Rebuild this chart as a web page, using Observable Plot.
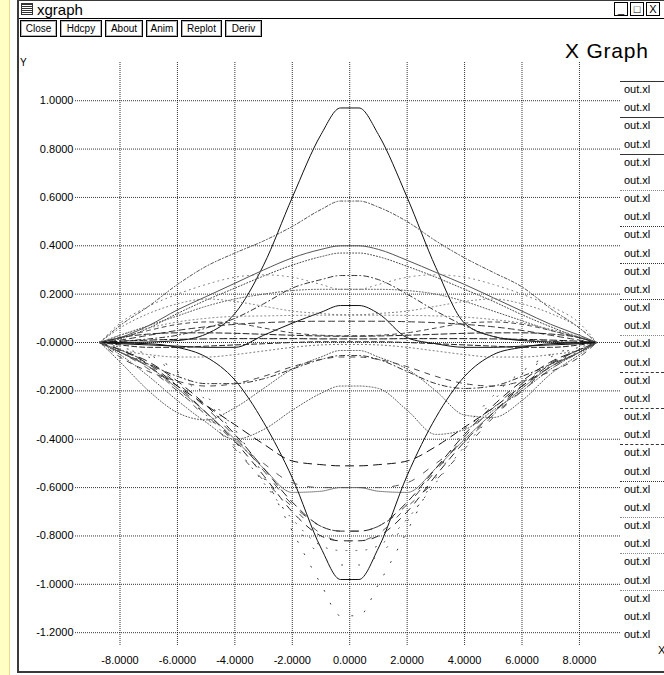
<!DOCTYPE html>
<html>
<head>
<meta charset="utf-8">
<script src="https://cdn.jsdelivr.net/npm/d3@7"></script>
<script src="https://cdn.jsdelivr.net/npm/@observablehq/plot@0.6"></script>
<style>
  html, body { margin: 0; padding: 0; background: #fff; }
  body { width: 664px; height: 675px; position: relative; overflow: hidden; font-family: "Liberation Sans", Arial, sans-serif; }
  .abs { position: absolute; }
  #strip { left: 0; top: 0; width: 9px; height: 675px; background: #ffffc4; border-right: 1px solid #e6d98c; }
  #winL { left: 17px; top: 0; width: 2px; height: 673px; background: #3a3a3a; }
  #winT { left: 17px; top: 0; width: 647px; height: 1px; background: #3a3a3a; }
  #winB { left: 17px; top: 671px; width: 647px; height: 2px; background: #3a3a3a; }
  #titlebar { left: 19px; top: 1px; width: 645px; height: 17px; border-bottom: 1px solid #000; background: #fff; }
  #icon { left: 21px; top: 3px; width: 12px; height: 12px; background: repeating-linear-gradient(#333 0 1px, #fff 1px 2px); border: 1px solid #333; box-sizing: border-box; }
  #wtitle { left: 37px; top: 1px; font-size: 15px; line-height: 17px; color: #000; }
  .wbox { top: 2px; width: 14px; height: 14px; border: 1px solid #000; box-sizing: border-box; font-size: 11px; line-height: 12px; text-align: center; }
  .btn { top: 20px; height: 17px; border: 1px solid #000; box-shadow: inset 0 0 0 1px #b0b0b0; box-sizing: border-box; font-size: 10px; line-height: 15px; text-align: center; color: #000; background: #fff; }
  #xgtitle { left: 565px; top: 39px; font-size: 21px; letter-spacing: 0.8px; color: #000; }
  #ylab { left: 20px; top: 57px; font-size: 10px; }
  #xlab { left: 658px; top: 644px; font-size: 11px; }
  .leg { left: 624px; font-size: 11px; line-height: 12px; color: #000; }
  .legline { left: 620px; width: 44px; height: 0; }
  #chart { left: 0; top: 0; }
</style>
</head>
<body>
<div id="strip" class="abs"></div>
<div id="winL" class="abs"></div>
<div id="winT" class="abs"></div>
<div id="winB" class="abs"></div>
<div id="titlebar" class="abs"></div>
<div id="icon" class="abs"></div>
<div id="wtitle" class="abs">xgraph</div>
<div class="abs wbox" style="left:614px">_</div>
<div class="abs wbox" style="left:630px">&#9633;</div>
<div class="abs wbox" style="left:646px">X</div>
<div id="buttons"></div>
<div id="xgtitle" class="abs">X Graph</div>
<div id="ylab" class="abs">Y</div>
<div id="xlab" class="abs">X</div>
<div id="legend"></div>
<div id="chart" class="abs"></div>
<script>
// ---- tick values and labels ----
const xTicks = [-8, -6, -4, -2, 0, 2, 4, 6, 8];
const xTickLabels = ["-8.0000", "-6.0000", "-4.0000", "-2.0000", "0.0000", "2.0000", "4.0000", "6.0000", "8.0000"];
const yTicks = [-1.2, -1.0, -0.8, -0.6, -0.4, -0.2, 0, 0.2, 0.4, 0.6, 0.8, 1.0];
const yTickLabels = ["-1.2000", "-1.0000", "-0.8000", "-0.6000", "-0.4000", "-0.2000", "-0.0000", "0.2000", "0.4000", "0.6000", "0.8000", "1.0000"];

// ---- sample positions shared by every data set ----
const xs = [-8.7, -8, -7, -6, -5, -4, -3, -2, -1, -0.32, 0.32, 1, 2, 3, 4, 5, 6, 7, 8, 8.6];

// ---- the 31 data sets (all named "out.xl" in the legend) ----
const s01 = [0, 0, 0.002, 0.008, 0.035, 0.12, 0.32, 0.60, 0.86, 0.97, 0.97, 0.86, 0.60, 0.31, 0.08, 0.025, 0.008, 0.002, 0, 0];
const s02 = [0, 0.07, 0.15, 0.24, 0.315, 0.37, 0.42, 0.48, 0.55, 0.585, 0.585, 0.56, 0.50, 0.42, 0.35, 0.29, 0.23, 0.14, 0.06, 0];
const s03 = [0, 0.02, 0.07, 0.135, 0.19, 0.245, 0.30, 0.35, 0.385, 0.40, 0.40, 0.385, 0.34, 0.29, 0.24, 0.185, 0.13, 0.075, 0.03, 0];
const s04 = [0, 0.015, 0.06, 0.12, 0.175, 0.225, 0.275, 0.32, 0.355, 0.37, 0.37, 0.355, 0.315, 0.27, 0.22, 0.17, 0.115, 0.065, 0.02, 0];
const s05 = [0, 0.005, 0.015, 0.03, 0.06, 0.10, 0.16, 0.225, 0.26, 0.277, 0.277, 0.26, 0.20, 0.13, 0.07, 0.025, 0.01, 0.005, 0, 0];
const s06 = [0, 0.03, 0.07, 0.11, 0.15, 0.18, 0.20, 0.215, 0.22, 0.22, 0.22, 0.22, 0.215, 0.20, 0.17, 0.13, 0.09, 0.05, 0.02, 0];
const s07 = [0, -0.005, -0.01, -0.015, -0.02, -0.02, 0.03, 0.08, 0.125, 0.153, 0.153, 0.12, 0.02, -0.005, -0.02, -0.02, -0.015, -0.01, -0.005, 0];
const s08 = [0, 0.01, 0.03, 0.05, 0.065, 0.075, 0.082, 0.086, 0.088, 0.088, 0.088, 0.088, 0.086, 0.082, 0.075, 0.065, 0.05, 0.03, 0.01, 0];
const s09 = [0, 0.03, 0.06, 0.085, 0.10, 0.108, 0.11, 0.112, 0.113, 0.113, 0.113, 0.113, 0.112, 0.11, 0.105, 0.095, 0.08, 0.055, 0.025, 0];
const s10 = [0, 0.02, 0.035, 0.04, 0.04, 0.038, 0.034, 0.03, 0.027, 0.026, 0.026, 0.027, 0.03, 0.034, 0.038, 0.04, 0.04, 0.035, 0.02, 0];
const s11 = [0, 0.005, 0.01, 0.013, 0.015, 0.016, 0.016, 0.016, 0.015, 0.015, 0.015, 0.015, 0.016, 0.016, 0.016, 0.015, 0.013, 0.01, 0.005, 0];
const s12 = [0, -0.01, -0.02, -0.02, -0.015, -0.01, -0.005, 0, 0.003, 0.003, 0.003, 0.003, 0, -0.005, -0.01, -0.015, -0.02, -0.02, -0.01, 0];
const s13 = [0, -0.08, -0.20, -0.29, -0.32, -0.27, -0.19, -0.11, -0.06, -0.033, -0.033, -0.06, -0.11, -0.20, -0.30, -0.31, -0.24, -0.13, -0.05, 0];
const s14 = [0, -0.04, -0.09, -0.14, -0.17, -0.17, -0.15, -0.11, -0.07, -0.054, -0.054, -0.07, -0.12, -0.17, -0.19, -0.18, -0.14, -0.09, -0.04, 0];
const s15 = [0, -0.05, -0.14, -0.24, -0.33, -0.40, -0.36, -0.28, -0.21, -0.18, -0.18, -0.19, -0.28, -0.38, -0.36, -0.28, -0.20, -0.11, -0.04, 0];
const s16 = [0, -0.04, -0.10, -0.18, -0.26, -0.34, -0.42, -0.49, -0.505, -0.51, -0.51, -0.505, -0.49, -0.43, -0.35, -0.27, -0.18, -0.10, -0.04, 0];
const s17 = [0, -0.04, -0.10, -0.19, -0.29, -0.40, -0.52, -0.62, -0.615, -0.60, -0.60, -0.615, -0.62, -0.52, -0.40, -0.29, -0.19, -0.10, -0.04, 0];
const s18 = [0, -0.03, -0.08, -0.16, -0.26, -0.38, -0.52, -0.66, -0.76, -0.78, -0.78, -0.76, -0.66, -0.52, -0.38, -0.26, -0.16, -0.08, -0.03, 0];
const s19 = [0, -0.03, -0.09, -0.18, -0.29, -0.41, -0.55, -0.70, -0.80, -0.82, -0.82, -0.80, -0.70, -0.55, -0.41, -0.29, -0.18, -0.09, -0.03, 0];
const s20 = [0, -0.002, -0.005, -0.02, -0.06, -0.155, -0.33, -0.56, -0.85, -0.98, -0.98, -0.85, -0.55, -0.31, -0.14, -0.05, -0.02, -0.005, -0.002, 0];
const s21 = [0, -0.02, -0.05, -0.12, -0.22, -0.36, -0.55, -0.78, -1.0, -1.13, -1.13, -1.0, -0.78, -0.55, -0.36, -0.22, -0.12, -0.05, -0.02, 0];
const s22 = [0, -0.03, -0.085, -0.17, -0.27, -0.39, -0.53, -0.67, -0.76, -0.78, -0.78, -0.76, -0.67, -0.53, -0.39, -0.27, -0.17, -0.085, -0.03, 0];
const s23 = [0, -0.035, -0.095, -0.19, -0.30, -0.43, -0.58, -0.73, -0.84, -0.86, -0.86, -0.84, -0.73, -0.58, -0.43, -0.30, -0.19, -0.095, -0.035, 0];
const s24 = [0, 0.06, 0.12, 0.16, 0.18, 0.17, 0.15, 0.13, 0.12, 0.115, 0.115, 0.12, 0.13, 0.15, 0.17, 0.18, 0.16, 0.12, 0.06, 0];
const s25 = [0, 0.02, 0.05, 0.075, 0.085, 0.08, 0.06, 0.04, 0.03, 0.028, 0.028, 0.03, 0.04, 0.06, 0.08, 0.085, 0.075, 0.05, 0.02, 0];
const s26 = [0, -0.04, -0.10, -0.20, -0.31, -0.44, -0.57, -0.68, -0.79, -0.82, -0.82, -0.79, -0.68, -0.57, -0.44, -0.31, -0.20, -0.10, -0.04, 0];
const s27 = [0, -0.04, -0.11, -0.20, -0.30, -0.41, -0.50, -0.58, -0.60, -0.60, -0.60, -0.60, -0.58, -0.50, -0.41, -0.30, -0.20, -0.11, -0.04, 0];
const s28 = [0, -0.03, -0.05, -0.06, -0.06, -0.05, -0.035, -0.02, -0.01, -0.008, -0.008, -0.01, -0.02, -0.035, -0.05, -0.06, -0.06, -0.05, -0.03, 0];
const s29 = [0, 0.08, 0.15, 0.20, 0.24, 0.27, 0.28, 0.27, 0.24, 0.22, 0.22, 0.24, 0.27, 0.28, 0.27, 0.24, 0.20, 0.15, 0.08, 0];
const s30 = [0, -0.06, -0.12, -0.16, -0.18, -0.17, -0.14, -0.10, -0.07, -0.06, -0.06, -0.07, -0.10, -0.14, -0.17, -0.18, -0.16, -0.12, -0.06, 0];
const s31 = [0, -0.02, -0.06, -0.13, -0.24, -0.38, -0.56, -0.74, -0.88, -0.92, -0.92, -0.88, -0.74, -0.56, -0.38, -0.24, -0.13, -0.06, -0.02, 0];

const seriesValues = [s01, s02, s03, s04, s05, s06, s07, s08, s09, s10, s11, s12, s13, s14, s15, s16,
                      s17, s18, s19, s20, s21, s22, s23, s24, s25, s26, s27, s28, s29, s30, s31];
const seriesNames = ["out.xl", "out.xl", "out.xl", "out.xl", "out.xl", "out.xl", "out.xl", "out.xl",
                     "out.xl", "out.xl", "out.xl", "out.xl", "out.xl", "out.xl", "out.xl", "out.xl",
                     "out.xl", "out.xl", "out.xl", "out.xl", "out.xl", "out.xl", "out.xl", "out.xl",
                     "out.xl", "out.xl", "out.xl", "out.xl", "out.xl", "out.xl", "out.xl"];

// ---- line styles (presentation only) ----
const lineStyles = [
  {stroke: "#111", dash: null},          // s01 solid
  {stroke: "#555", dash: "3,2,1,2"},     // s02
  {stroke: "#555", dash: null},          // s03
  {stroke: "#444", dash: "1,2"},         // s04
  {stroke: "#333", dash: "5,3,1,3"},     // s05
  {stroke: "#555", dash: "1,2"},         // s06
  {stroke: "#111", dash: null},          // s07
  {stroke: "#333", dash: "6,4"},         // s08
  {stroke: "#777", dash: "1,3"},         // s09
  {stroke: "#222", dash: "6,3"},         // s10
  {stroke: "#111", dash: "7,3"},         // s11
  {stroke: "#222", dash: "5,3"},         // s12
  {stroke: "#555", dash: "1,2"},         // s13
  {stroke: "#333", dash: "5,3,1,3"},     // s14
  {stroke: "#555", dash: "1,2"},         // s15
  {stroke: "#111", dash: "8,6"},         // s16
  {stroke: "#666", dash: "1,1"},         // s17
  {stroke: "#222", dash: "8,6"},         // s18
  {stroke: "#222", dash: "7,7"},         // s19
  {stroke: "#111", dash: null},          // s20 solid
  {stroke: "#333", dash: "1,13"},        // s21
  {stroke: "#444", dash: "7,12"},        // s22
  {stroke: "#555", dash: "1,9"},         // s23
  {stroke: "#777", dash: "1,3"},         // s24
  {stroke: "#444", dash: "4,4"},         // s25
  {stroke: "#555", dash: "5,14"},        // s26
  {stroke: "#555", dash: "6,11"},        // s27
  {stroke: "#666", dash: "1,3"},         // s28
  {stroke: "#777", dash: "1,4"},         // s29
  {stroke: "#444", dash: "5,6"},         // s30
  {stroke: "#444", dash: "1,16"}         // s31
];
// legend sample line style for each entry (null = no sample drawn)
const legendDash = ["solid", null, "solid", null, "solid", null, "dots-sparse", null, "dotted", null,
                    "dotted", null, "dotted", null, "dots-sparse", null, "dashed", null, "dashed", null,
                    "dashed", null, "dotted", null, "dots-sparse", null, "dots-sparse", null, "dots-sparse", null, null];

// ---- build tables ----
const tables = seriesValues.map((vals, i) => vals.map((v, j) => ({series: i, x: xs[j], y: v})));

const marks = [
  Plot.ruleY(yTicks, {stroke: "#000", strokeOpacity: 0.8, strokeDasharray: "1,1", strokeWidth: 1}),
  Plot.ruleX(xTicks, {stroke: "#000", strokeOpacity: 0.8, strokeDasharray: "1,1", strokeWidth: 1})
];
tables.forEach((t, i) => {
  const st = lineStyles[i];
  const opts = {x: "x", y: "y", stroke: st.stroke, strokeWidth: 1, curve: "monotone-x"};
  if (st.dash) opts.strokeDasharray = st.dash;
  marks.push(Plot.line(t, opts));
});

const chart = Plot.plot({
  width: 664,
  height: 675,
  marginLeft: 75,
  marginRight: 44,
  marginTop: 62,
  marginBottom: 30,
  style: {background: "transparent", fontFamily: "Liberation Sans, Arial, sans-serif", fontSize: "11px", color: "#000", overflow: "visible"},
  x: {domain: [-9.55, 9.43], ticks: xTicks, tickSize: 0, tickPadding: 11,
      tickFormat: d => xTickLabels[xTicks.indexOf(d)], label: null},
  y: {domain: [-1.253, 1.158], ticks: yTicks, tickSize: 0, tickPadding: 2,
      tickFormat: d => yTickLabels[yTicks.indexOf(d)], label: null},
  marks
});
document.getElementById("chart").appendChild(chart);

// ---- buttons row ----
const buttonLabels = ["Close", "Hdcpy", "About", "Anim", "Replot", "Deriv"];
const buttonLeft = [20, 60, 105, 146, 181, 225];
const buttonWidth = [37, 42, 38, 32, 41, 37];
const bdiv = document.getElementById("buttons");
buttonLabels.forEach((b, i) => {
  const d = document.createElement("div");
  d.className = "abs btn";
  d.style.left = buttonLeft[i] + "px";
  d.style.width = buttonWidth[i] + "px";
  d.textContent = b;
  bdiv.appendChild(d);
});

// ---- legend ----
const ldiv = document.getElementById("legend");
seriesNames.forEach((name, i) => {
  const cy = 89 + i * 18.17;
  const t = document.createElement("div");
  t.className = "abs leg";
  t.style.top = (cy - 6) + "px";
  t.textContent = name;
  ldiv.appendChild(t);
  const st = legendDash[i];
  if (st) {
    const l = document.createElement("div");
    l.className = "abs legline";
    l.style.top = (cy - 8) + "px";
    const kind = st === "solid" ? "solid" : st === "dashed" ? "dashed" : "dotted";
    l.style.borderTop = "1px " + kind + " " + (st === "dots-sparse" ? "#888" : "#333");
    ldiv.appendChild(l);
  }
});
</script>
</body>
</html>
